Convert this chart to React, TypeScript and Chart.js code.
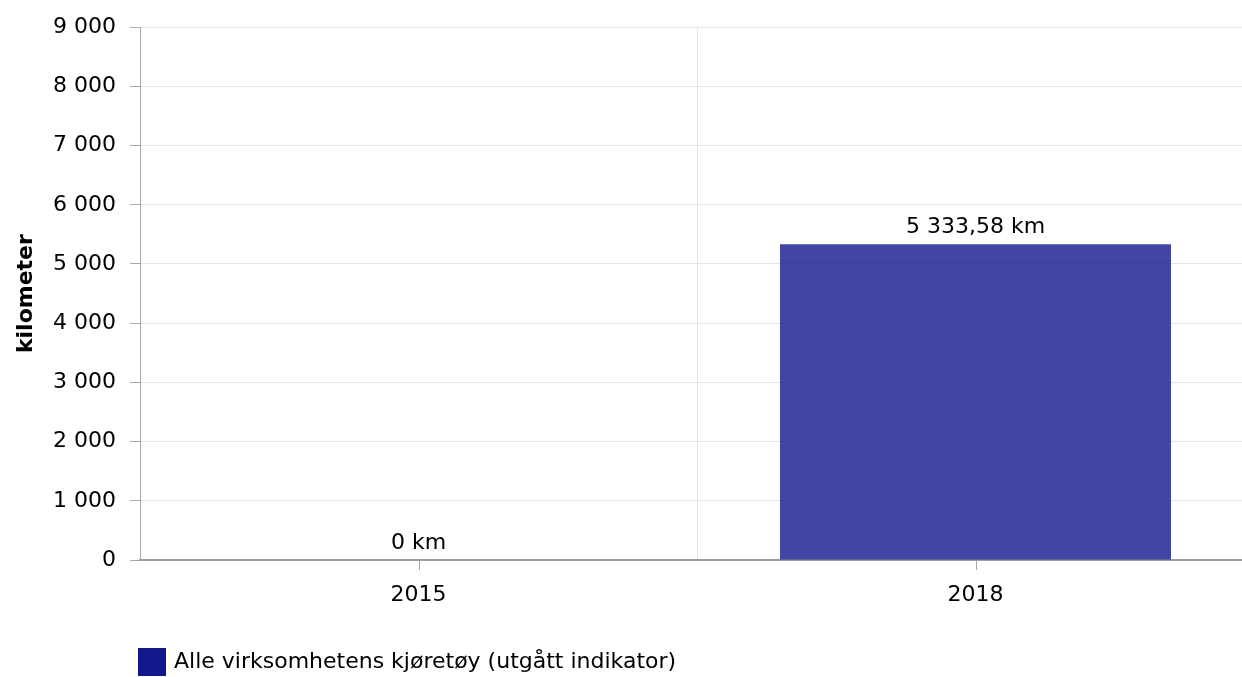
import React, { useEffect, useRef } from "react";
import { Chart, registerables } from "chart.js";

Chart.register(...registerables);

const categories: string[] = ["2015", "2018"];
const seriesName = "Alle virksomhetens kjøretøy (utgått indikator)";
const seriesValues: number[] = [0, 5333.58];
const unit = "km";
const yAxisTitle = "kilometer";
const yMin = 0;
const yMax = 9000;
const yStep = 1000;

const FONT = "'DejaVu Sans', Verdana, sans-serif";
const FS = 22;
const SERIES_COLOR = "rgb(17,23,141)";
const BAR_COLOR = "rgba(17,23,141,0.8)";

function formatNumber(v: number): string {
  const isInt = Math.round(v) === v;
  const fixed = Math.abs(v).toFixed(isInt ? 0 : 2);
  const [intPart, frac] = fixed.split(".");
  const grouped = intPart.replace(/\B(?=(\d{3})+(?!\d))/g, " ");
  return (v < 0 ? "-" : "") + grouped + (frac ? "," + frac : "");
}

const dataLabelPlugin = {
  id: "dataLabels",
  afterDatasetsDraw(chart: any) {
    const ctx = chart.ctx;
    const meta = chart.getDatasetMeta(0);
    ctx.save();
    ctx.font = `${FS}px ${FONT}`;
    ctx.fillStyle = "#000";
    ctx.textAlign = "center";
    ctx.textBaseline = "bottom";
    meta.data.forEach((bar: any, i: number) => {
      const v = chart.data.datasets[0].data[i];
      ctx.fillText(`${formatNumber(v)} ${unit}`, bar.x, bar.y - 6);
    });
    ctx.restore();
  },
};

const xTickMarksPlugin = {
  id: "xTickMarks",
  afterDraw(chart: any) {
    const ctx = chart.ctx;
    const xs = chart.scales.x;
    const bottom = chart.chartArea.bottom;
    ctx.save();
    ctx.strokeStyle = "#a8a8a8";
    ctx.lineWidth = 1;
    chart.data.labels.forEach((_: any, i: number) => {
      const x = Math.round(xs.getPixelForValue(i)) + 0.5;
      ctx.beginPath();
      ctx.moveTo(x, bottom + 1);
      ctx.lineTo(x, bottom + 10);
      ctx.stroke();
    });
    ctx.restore();
  },
};

const customLegendPlugin = {
  id: "customLegend",
  afterDraw(chart: any) {
    const ctx = chart.ctx;
    const left = chart.chartArea.left - 2;
    const top = 648;
    ctx.save();
    chart.data.datasets.forEach((ds: any) => {
      ctx.fillStyle = SERIES_COLOR;
      ctx.fillRect(left, top, 28, 28);
      ctx.font = `${FS}px ${FONT}`;
      ctx.fillStyle = "#000";
      ctx.textAlign = "left";
      ctx.textBaseline = "alphabetic";
      ctx.fillText(ds.label, left + 36, 668);
    });
    ctx.restore();
  },
};

export default function App() {
  const canvasRef = useRef<HTMLCanvasElement | null>(null);

  useEffect(() => {
    if (!canvasRef.current) return;
    Chart.defaults.font.family = FONT;
    Chart.defaults.font.size = FS;
    Chart.defaults.color = "#000";
    const chart = new Chart(canvasRef.current, {
      type: "bar",
      data: {
        labels: categories,
        datasets: [
          {
            label: seriesName,
            data: seriesValues,
            backgroundColor: BAR_COLOR,
            borderWidth: 0,
            barPercentage: 0.702,
            categoryPercentage: 1,
          },
        ],
      },
      options: {
        animation: false,
        responsive: false,
        devicePixelRatio: 1,
        layout: { padding: { top: 11.9, right: 0, bottom: 0, left: 0 } },
        plugins: {
          legend: { display: false },
          tooltip: { enabled: false },
        },
        scales: {
          x: {
            offset: true,
            afterFit: (s: any) => {
              s.height = 117;
            },
            grid: {
              offset: true,
              drawTicks: false,
              color: (c: any) => (c.index === 1 ? "#e3e3e3" : "transparent"),
              lineWidth: 1,
            },
            border: { display: true, color: "#9c9c9c", width: 2 },
            ticks: { padding: 22, color: "#000", font: { size: FS, family: FONT } },
          },
          y: {
            min: yMin,
            max: yMax,
            afterFit: (s: any) => {
              s.width = 140;
            },
            ticks: {
              stepSize: yStep,
              padding: 14,
              color: "#000",
              font: { size: FS, family: FONT },
              callback: (v: any) => formatNumber(Number(v)),
            },
            grid: {
              color: "#e6e6e6",
              lineWidth: 1,
              tickLength: 10,
              tickColor: "#a8a8a8",
              drawTicks: true,
            },
            border: { display: true, color: "#a8a8a8", width: 1 },
            title: {
              display: true,
              text: yAxisTitle,
              color: "#000",
              font: { size: FS, weight: "bold", family: FONT },
              padding: { top: 13, bottom: 0 },
            },
          },
        },
      },
      plugins: [dataLabelPlugin, xTickMarksPlugin, customLegendPlugin],
    });
    return () => chart.destroy();
  }, []);

  return (
    <div style={{ position: "fixed", left: 0, top: 0, width: 1242, height: 677, overflow: "hidden", background: "#fff" }}>
      <canvas ref={canvasRef} width={1254} height={677} style={{ display: "block" }} />
    </div>
  );
}
